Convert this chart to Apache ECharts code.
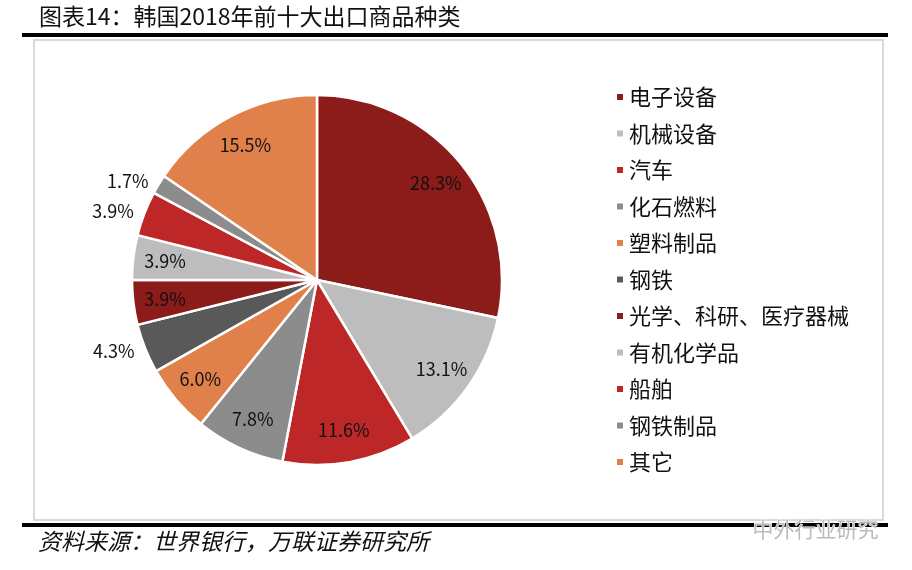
<!DOCTYPE html>
<html lang="zh-CN">
<head>
  <meta charset="utf-8">
  <style>
    html,body { margin:0; padding:0; width:100%; height:100%; overflow:hidden; background:#fff; }
  </style>
  <script src="https://cdn.jsdelivr.net/npm/echarts@6/dist/echarts.min.js"></script>
</head>
<body>
  <div id="container" style="width:912px;height:570px;"></div>
  <script>
    // 韩国2018年前十大出口商品种类（%）
    var categories = ['电子设备', '机械设备', '汽车', '化石燃料', '塑料制品', '钢铁',
      '光学、科研、医疗器械', '有机化学品', '船舶', '钢铁制品', '其它'];
    var shares = [28.3, 13.1, 11.6, 7.8, 6.0, 4.3, 3.9, 3.9, 3.9, 1.7, 15.5];
    var colors = ['#8b1c1a', '#bdbdbd', '#be2727', '#8c8c8c', '#e0804a', '#595959',
      '#8b1c1a', '#bdbdbd', '#be2727', '#8c8c8c', '#e0804a'];
    // 标签放在扇区外的类目
    var outsideLabel = ['钢铁', '船舶', '钢铁制品'];

    var font = '"Noto Sans CJK SC", "Noto Sans", sans-serif';
    var fmt = function (p) { return p.value.toFixed(1) + '%'; };

    var pieData = categories.map(function (name, i) {
      var out = outsideLabel.indexOf(name) >= 0;
      return {
        name: name,
        value: shares[i],
        itemStyle: { color: colors[i] },
        label: { show: out }
      };
    });
    var labelData = categories.map(function (name, i) {
      var out = outsideLabel.indexOf(name) >= 0;
      return { name: name, value: shares[i], label: { show: !out } };
    });

    var myChart = echarts.init(document.getElementById('container'), null, { renderer: 'canvas' });

    var option = {
      animation: false,
      title: {
        text: '图表14：韩国2018年前十大出口商品种类',
        left: 34,
        top: 0,
        textStyle: { fontFamily: font, fontSize: 23, fontWeight: 'normal', color: '#111' }
      },
      graphic: [
        { type: 'rect', shape: { x: 22, y: 33, width: 866, height: 4 }, style: { fill: '#000' } },
        { type: 'rect', shape: { x: 34, y: 40, width: 849, height: 480 },
          style: { fill: 'none', stroke: '#d9d9d9', lineWidth: 2 } },
        { type: 'rect', shape: { x: 22, y: 523, width: 866, height: 4 }, style: { fill: '#000' } },
        { type: 'text', left: 38, top: 530,
          style: { text: '资料来源：世界银行，万联证券研究所', font: 'italic 23px ' + font, fill: '#111' } },
        { type: 'text', left: 752, top: 518,
          style: { text: '中外行业研究', font: '21px ' + font, fill: '#bbb', stroke: '#fff', lineWidth: 1 } }
      ],
      legend: {
        orient: 'vertical',
        left: 610,
        top: 81,
        icon: 'rect',
        itemWidth: 8,
        itemHeight: 8,
        itemGap: 14.5,
        selectedMode: false,
        data: categories,
        textStyle: { fontFamily: font, fontSize: 22, lineHeight: 22, color: '#111' }
      },
      series: [
        {
          type: 'pie',
          center: [317, 280],
          radius: [0, 185],
          startAngle: 90,
          clockwise: true,
          avoidLabelOverlap: false,
          itemStyle: { borderColor: '#fff', borderWidth: 2.5 },
          label: {
            position: 'outside',
            formatter: fmt,
            fontFamily: font,
            fontSize: 18,
            color: '#111'
          },
          labelLine: { show: false, length: 6, length2: 0 },
          data: pieData
        },
        {
          type: 'pie',
          center: [317, 280],
          radius: [115, 185],
          startAngle: 90,
          clockwise: true,
          silent: true,
          itemStyle: { color: 'rgba(0,0,0,0)', borderWidth: 0 },
          label: {
            position: 'inside',
            formatter: fmt,
            fontFamily: font,
            fontSize: 18,
            color: '#111'
          },
          labelLine: { show: false },
          data: labelData
        }
      ]
    };

    myChart.setOption(option);
    window.addEventListener('resize', myChart.resize);
  </script>
</body>
</html>
